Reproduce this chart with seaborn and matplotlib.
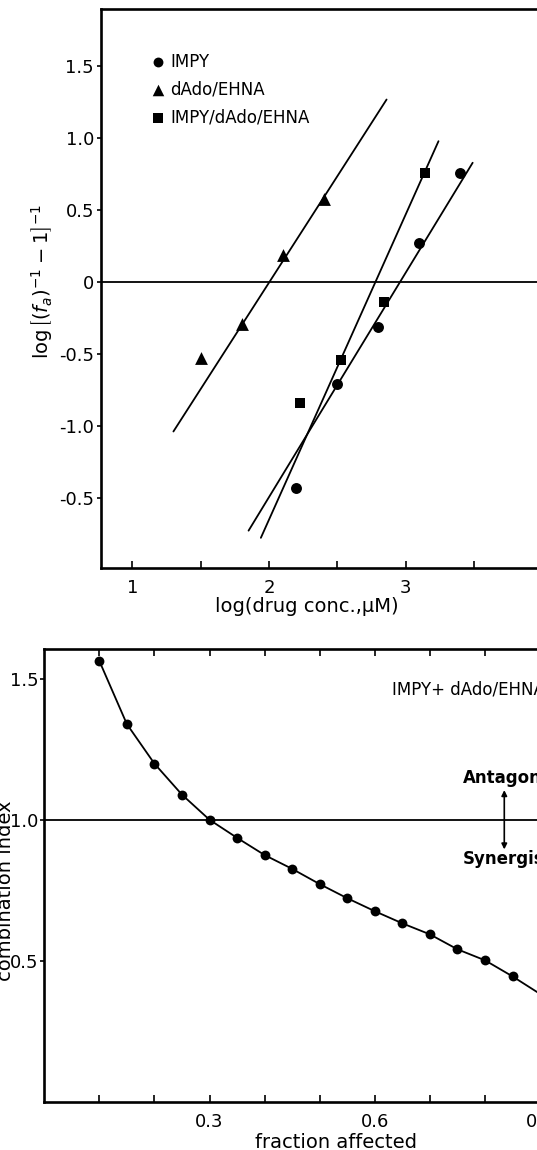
import matplotlib
matplotlib.use("Agg")
import numpy as np
import pandas as pd
import matplotlib.pyplot as plt
import seaborn as sns

# Median-effect plot
impy_x = [2.2, 2.5, 2.8, 3.1, 3.4]
impy_y = [-1.43, -0.71, -0.31, 0.27, 0.76]
dado_x = [1.5, 1.8, 2.1, 2.4]
dado_y = [-0.53, -0.29, 0.19, 0.58]
combo_x = [2.23, 2.53, 2.84, 3.14]
combo_y = [-0.84, -0.54, -0.14, 0.76]

# ends of the fitted lines
impy_fit_x = [1.85, 3.49]
impy_fit_y = [-1.73, 0.83]
dado_fit_x = [1.30, 2.86]
dado_fit_y = [-1.04, 1.27]
combo_fit_x = [1.94, 3.24]
combo_fit_y = [-1.78, 0.98]

drugs = ["IMPY", "dAdo/EHNA", "IMPY/dAdo/EHNA"]
top_yticks = [1.5, 1.0, 0.5, 0, -0.5, -1.0, -1.5]
top_yticklabels = ["1.5", "1.0", "0.5", "0", "-0.5", "-1.0", "-0.5"]

# Combination index vs fraction affected
fa = [0.10, 0.15, 0.20, 0.25, 0.30, 0.35, 0.40, 0.45,
      0.50, 0.55, 0.60, 0.65, 0.70, 0.75, 0.80, 0.85]
ci = [1.563, 1.339, 1.199, 1.089, 1.0, 0.936, 0.875, 0.826,
      0.772, 0.722, 0.676, 0.633, 0.594, 0.541, 0.502, 0.445]
fa_tail = [0.895]
ci_tail = [0.389]

sns.set_style("ticks")
plt.rcParams["font.family"] = ["DejaVu Sans"]
plt.rcParams.update({
    "axes.linewidth": 1.9,
    "axes.edgecolor": "black",
    "axes.labelcolor": "black",
    "text.color": "black",
    "xtick.color": "black",
    "ytick.color": "black",
})

fig = plt.figure(figsize=(5.37, 11.5), dpi=100)

# ---- top panel ----
ax1 = fig.add_axes([101 / 537, 1 - 568 / 1150, 455 / 537, 559 / 1150])

for fx, fy in [(impy_fit_x, impy_fit_y), (dado_fit_x, dado_fit_y), (combo_fit_x, combo_fit_y)]:
    sns.lineplot(x=fx, y=fy, color="black", lw=1.3, ax=ax1)

sns.scatterplot(x=impy_x, y=impy_y, marker="o", s=62, color="black", linewidth=0,
                ax=ax1, zorder=3, label=drugs[0])
sns.scatterplot(x=dado_x, y=dado_y, marker="^", s=85, color="black", linewidth=0,
                ax=ax1, zorder=3, label=drugs[1])
sns.scatterplot(x=combo_x, y=combo_y, marker="s", s=55, color="black", linewidth=0,
                ax=ax1, zorder=3, label=drugs[2])
ax1.axhline(0, color="black", lw=1.3)

ax1.set_xlim(0.77, 4.1)
ax1.set_ylim(-1.99, 1.9)
ax1.set_xticks([1, 2, 3])
ax1.set_xticklabels(["1", "2", "3"])
ax1.set_xticks([1.5, 2.5, 3.5], minor=True)
ax1.set_yticks(top_yticks)
ax1.set_yticklabels(top_yticklabels)
ax1.tick_params(axis="x", which="both", direction="in", length=5, width=1.2, pad=8, labelsize=13)
ax1.tick_params(axis="y", direction="out", length=3, width=1.2, pad=2, labelsize=13)

ax1.set_xlabel("log(drug conc.,μM)", fontsize=14)
ax1.xaxis.set_label_coords(0.453, -0.052)
ax1.set_ylabel(r"$\log\left[(f_a)^{-1}-1\right]^{-1}$", fontsize=14)
ax1.yaxis.set_label_coords(-0.101, 0.512)

ax1.legend(loc="upper left", bbox_to_anchor=(0.11, 0.922), frameon=False,
           fontsize=12, handlelength=0.8, handletextpad=0.35,
           borderaxespad=0, borderpad=0, labelspacing=0.6, markerscale=0.9)

# ---- bottom panel ----
ax2 = fig.add_axes([44.2 / 537, 1 - 1102 / 1150, 551 / 537, 453 / 1150])

sns.lineplot(x=fa + fa_tail, y=ci + ci_tail, color="black", lw=1.3, ax=ax2)
sns.scatterplot(x=fa, y=ci, color="black", s=50, linewidth=0, ax=ax2, zorder=3)
ax2.axhline(1.0, color="black", lw=1.3)

ax2.set_xlim(0, 1.0)
ax2.set_ylim(0, 1.605)
ax2.set_xticks([0.3, 0.6, 0.9])
ax2.set_xticklabels(["0.3", "0.6", "0.9"])
ax2.set_xticks([0.1, 0.2, 0.4, 0.5, 0.7, 0.8], minor=True)
ax2.set_yticks([0.5, 1.0, 1.5])
ax2.set_yticklabels(["0.5", "1.0", "1.5"])
ax2.tick_params(axis="x", which="both", direction="in", length=5, width=1.2, pad=8,
                labelsize=13, top=True)
ax2.tick_params(axis="y", direction="out", length=3, width=1.2, pad=1, labelsize=13)

ax2.set_xlabel("fraction affected", fontsize=14)
ax2.xaxis.set_label_coords(0.53, -0.068)
ax2.set_ylabel("combination index", fontsize=14)
ax2.yaxis.set_label_coords(-0.053, 0.466)

ax2.text(0.631, 1.463, "IMPY+ dAdo/EHNA", fontsize=12, va="center", ha="left")
ax2.text(0.76, 1.149, "Antagonism", fontsize=12, fontweight="bold", va="center", ha="left")
ax2.text(0.76, 0.861, "Synergism", fontsize=12, fontweight="bold", va="center", ha="left")
ax2.annotate("", xy=(0.835, 1.105), xytext=(0.835, 0.895),
             arrowprops=dict(arrowstyle="<|-|>", color="black", lw=1.2,
                             mutation_scale=8, shrinkA=0, shrinkB=0))

fig.savefig("out.png", dpi=100)
